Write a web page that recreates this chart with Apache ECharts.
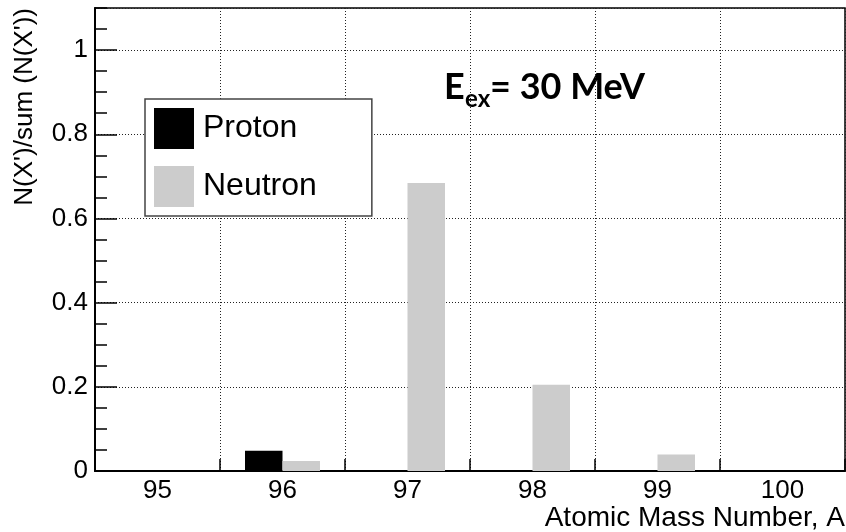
<!DOCTYPE html>
<html>
<head>
<meta charset="utf-8">
<script src="https://cdn.jsdelivr.net/npm/echarts@6/dist/echarts.min.js"></script>
<style>
  html, body { margin: 0; padding: 0; background: #fff; }
  #chart { width: 846px; height: 532px; }
</style>
</head>
<body>
<div id="chart"></div>
<script>
// ---- data ----
var categories = ['95', '96', '97', '98', '99', '100'];
var protonValues = [0, 0.048, 0, 0, 0, 0];
var neutronValues = [0, 0.024, 0.684, 0.205, 0.039, 0];
var yTickLabels = ['0', '0.2', '0.4', '0.6', '0.8', '1'];
var seriesNames = ['Proton', 'Neutron'];
var xTitle = 'Atomic Mass Number, A';
var yTitle = "N(X')/sum (N(X'))";

var FONT = '"Liberation Sans", Arial, Helvetica, sans-serif';
var dotted = { color: '#222', width: 1, type: [1, 2] };

var chart = echarts.init(document.getElementById('chart'), null, { renderer: 'canvas' });
chart.setOption({
  animation: false,
  backgroundColor: '#fff',
  grid: {
    left: 95, right: 1, top: 8, bottom: 61,
    show: true, borderColor: '#000', borderWidth: 1.5, containLabel: false
  },
  legend: {
    left: 145, top: 99,
    orient: 'vertical',
    data: seriesNames,
    icon: 'rect',
    itemWidth: 40, itemHeight: 41, itemGap: 17,
    padding: [9, 55, 9, 9],
    backgroundColor: '#fff',
    borderColor: '#444', borderWidth: 1.5, borderRadius: 0,
    textStyle: { fontFamily: FONT, fontSize: 32, color: '#000', padding: [0, 0, 0, 4] },
    selectedMode: false
  },
  xAxis: {
    type: 'category',
    data: categories,
    axisLine: { lineStyle: { color: '#000', width: 2 } },
    axisTick: { show: true, inside: true, length: 12, lineStyle: { color: '#000', width: 1.5 } },
    axisLabel: { fontFamily: FONT, fontSize: 26, color: '#000', margin: 7 },
    splitLine: { show: true, lineStyle: dotted }
  },
  yAxis: [
    {
      type: 'value', min: 0, max: 1.1, interval: 0.2,
      axisLine: { show: true, lineStyle: { color: '#000', width: 2 } },
      axisTick: { show: true, inside: true, length: 22, lineStyle: { color: '#000', width: 1.5 } },
      axisLabel: {
        fontFamily: FONT, fontSize: 26, color: '#000', margin: 7, showMaxLabel: false,
        formatter: function (v) {
          var i = Math.round(v / 0.2);
          return (Math.abs(v - i * 0.2) < 1e-6 && i < yTickLabels.length) ? yTickLabels[i] : '';
        }
      },
      splitLine: { show: true, lineStyle: dotted }
    },
    {
      type: 'value', min: 0, max: 1.1, interval: 0.05, position: 'left',
      axisLine: { show: false },
      axisTick: { show: true, inside: true, length: 12, lineStyle: { color: '#000', width: 1.5 } },
      axisLabel: { show: false },
      splitLine: { show: false }
    }
  ],
  series: [
    {
      name: seriesNames[0], type: 'bar', yAxisIndex: 0,
      data: protonValues, barWidth: '30%', barGap: '0%',
      itemStyle: { color: '#000' }
    },
    {
      name: seriesNames[1], type: 'bar', yAxisIndex: 0,
      data: neutronValues, barWidth: '30%', barGap: '0%',
      itemStyle: { color: '#cccccc' }
    }
  ],
  graphic: [
    {
      type: 'text', x: 845, y: 518,
      style: { text: xTitle, font: '28px ' + FONT, fill: '#000', textAlign: 'right', textVerticalAlign: 'middle' }
    },
    {
      type: 'text', x: 25, y: 8, rotation: Math.PI / 2,
      style: { text: yTitle, font: '26px ' + FONT, fill: '#000', textAlign: 'right', textVerticalAlign: 'middle' }
    },
    {
      type: 'text', x: 444, y: 105,
      style: { text: 'E', font: 'bold 36px Lato, "Open Sans", sans-serif', fill: '#000', textAlign: 'left', textVerticalAlign: 'bottom' }
    },
    {
      type: 'text', x: 465, y: 111,
      style: { text: 'ex', font: 'bold 24px Lato, "Open Sans", sans-serif', fill: '#000', textAlign: 'left', textVerticalAlign: 'bottom' }
    },
    {
      type: 'text', x: 490, y: 105,
      style: { text: '= 30 MeV', font: 'bold 36px Lato, "Open Sans", sans-serif', fill: '#000', textAlign: 'left', textVerticalAlign: 'bottom' }
    }
  ]
});
</script>
</body>
</html>
